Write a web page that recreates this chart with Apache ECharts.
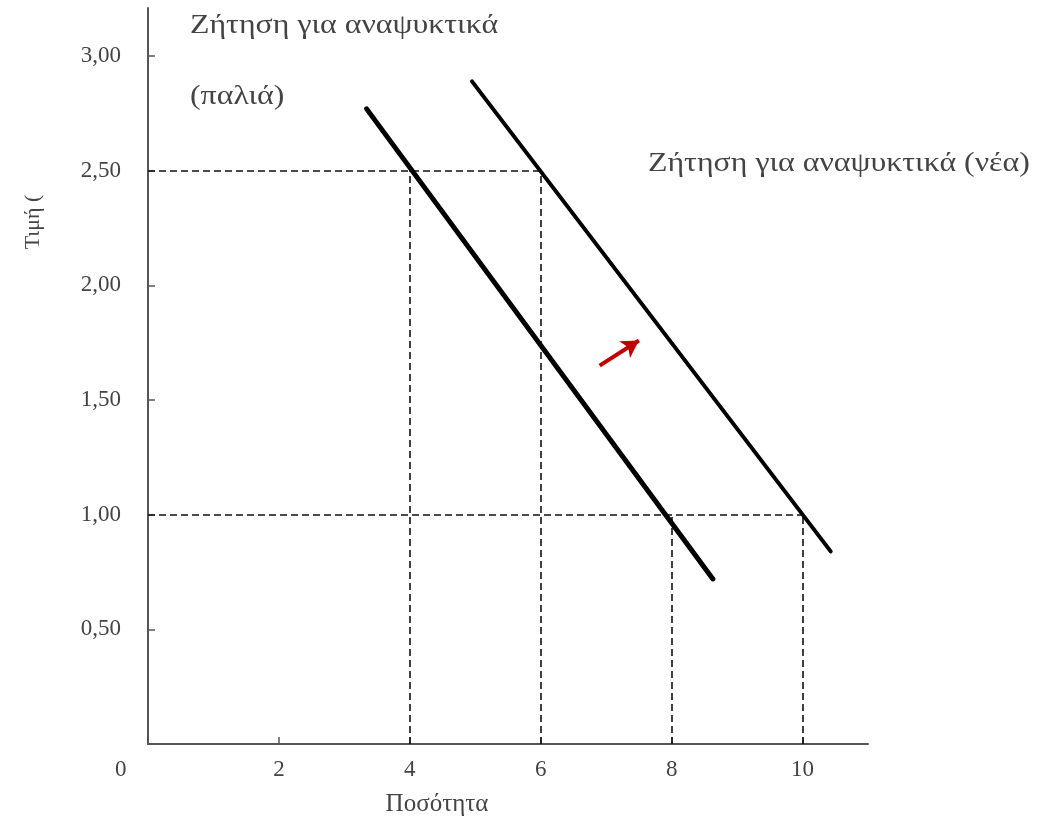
<!DOCTYPE html>
<html>
<head>
<meta charset="utf-8">
<script src="https://cdn.jsdelivr.net/npm/echarts@6/dist/echarts.min.js"></script>
<style>html,body{margin:0;padding:0;background:#fff}#c{width:1056px;height:819px}</style>
</head>
<body>
<div id="c"></div>
<script>
// Data
const xTicks = [0, 2, 4, 6, 8, 10];
const yTicks = [0.5, 1.0, 1.5, 2.0, 2.5, 3.0];
const oldDemand = [[3.34, 2.77], [8.63, 0.72]];
const newDemand = [[4.95, 2.89], [10.43, 0.84]];
const priceLevels = [2.5, 1.0];
const qtyAtHigh = [4, 6];   // quantities at price 2.50
const qtyAtLow = [8, 10];   // quantities at price 1.00
const shiftArrow = [[6.9, 1.65], [7.5, 1.76]];
const labelOld1 = 'Ζήτηση για αναψυκτικά';
const labelOld2 = '(παλιά)';
const labelNew = 'Ζήτηση για αναψυκτικά (νέα)';
const xName = 'Ποσότητα';
const yName = 'Τιμή (';

const serif = '"Liberation Serif", "DejaVu Serif", serif';
const axisCol = '#555';
const textCol = '#444';

const dashStyle = {color: '#111', width: 1.6, type: [7, 4]};
const dashSegs = [
  [[0, priceLevels[0]], [qtyAtHigh[1], priceLevels[0]]],
  [[qtyAtHigh[0], 0], [qtyAtHigh[0], priceLevels[0]]],
  [[qtyAtHigh[1], 0], [qtyAtHigh[1], priceLevels[0]]],
  [[0, priceLevels[1]], [qtyAtLow[1], priceLevels[1]]],
  [[qtyAtLow[0], 0], [qtyAtLow[0], priceLevels[1]]],
  [[qtyAtLow[1], 0], [qtyAtLow[1], priceLevels[1]]]
];

const xInner = xTicks.filter(v => v !== 0);

const chart = echarts.init(document.getElementById('c'));
chart.setOption({
  animation: false,
  backgroundColor: '#fff',
  grid: {left: 148, right: 188, top: 8, bottom: 75, containLabel: false, outerBoundsMode: 'none'},
  xAxis: {
    type: 'value', min: 0, max: 11, interval: 1,
    splitLine: {show: false},
    axisLine: {show: true, lineStyle: {color: axisCol, width: 2}},
    axisTick: {show: true, inside: true, length: 7, customValues: xInner, lineStyle: {color: axisCol, width: 1.5}},
    axisLabel: {
      color: textCol, fontFamily: serif, fontSize: 23, margin: 14, customValues: xInner,
      formatter: v => String(v)
    },
    name: xName, nameLocation: 'middle', nameGap: 48,
    nameTextStyle: {color: textCol, fontFamily: serif, fontSize: 25, padding: [0, 142, 0, 0]}
  },
  yAxis: {
    type: 'value', min: 0, max: 3.21,
    splitLine: {show: false},
    axisLine: {show: true, lineStyle: {color: axisCol, width: 2}},
    axisTick: {show: true, inside: true, length: 7, customValues: yTicks, lineStyle: {color: axisCol, width: 1.5}},
    axisLabel: {
      color: textCol, fontFamily: serif, fontSize: 23, margin: 27, customValues: yTicks,
      formatter: v => v.toFixed(2).replace('.', ',')
    }
  },
  graphic: [
    {type: 'text', left: 115, top: 758, style: {text: String(xTicks[0]), font: '23px ' + serif, fill: textCol}},
    {type: 'text', x: 33, y: 222, rotation: Math.PI / 2, style: {text: yName, font: '22px ' + serif, fill: textCol, align: 'center', verticalAlign: 'middle'}},
    {type: 'text', x: 190, y: 12, scaleX: 1.18, style: {text: labelOld1, font: '27px ' + serif, fill: textCol}},
    {type: 'text', x: 190, y: 83, scaleX: 1.18, style: {text: labelOld2, font: '27px ' + serif, fill: textCol}},
    {type: 'text', x: 648, y: 150, scaleX: 1.18, style: {text: labelNew, font: '27px ' + serif, fill: textCol}}
  ],
  series: [
    {
      type: 'line', data: oldDemand, symbol: 'none',
      lineStyle: {color: '#000', width: 5, cap: 'round'}, z: 5,
      markLine: {
        silent: true, symbol: ['none', 'none'], animation: false,
        lineStyle: dashStyle, label: {show: false},
        data: dashSegs.map(s => [{coord: s[0]}, {coord: s[1]}])
      }
    },
    {
      type: 'line', data: newDemand, symbol: 'none',
      lineStyle: {color: '#000', width: 4, cap: 'round'}, z: 5
    },
    {
      type: 'line', data: [], symbol: 'none',
      markLine: {
        silent: true, symbol: ['none', 'arrow'], symbolSize: [15, 17], animation: false,
        lineStyle: {color: '#c00000', width: 4, type: 'solid'}, label: {show: false},
        data: [[{coord: shiftArrow[0]}, {coord: shiftArrow[1]}]]
      }
    }
  ]
});
</script>
</body>
</html>
